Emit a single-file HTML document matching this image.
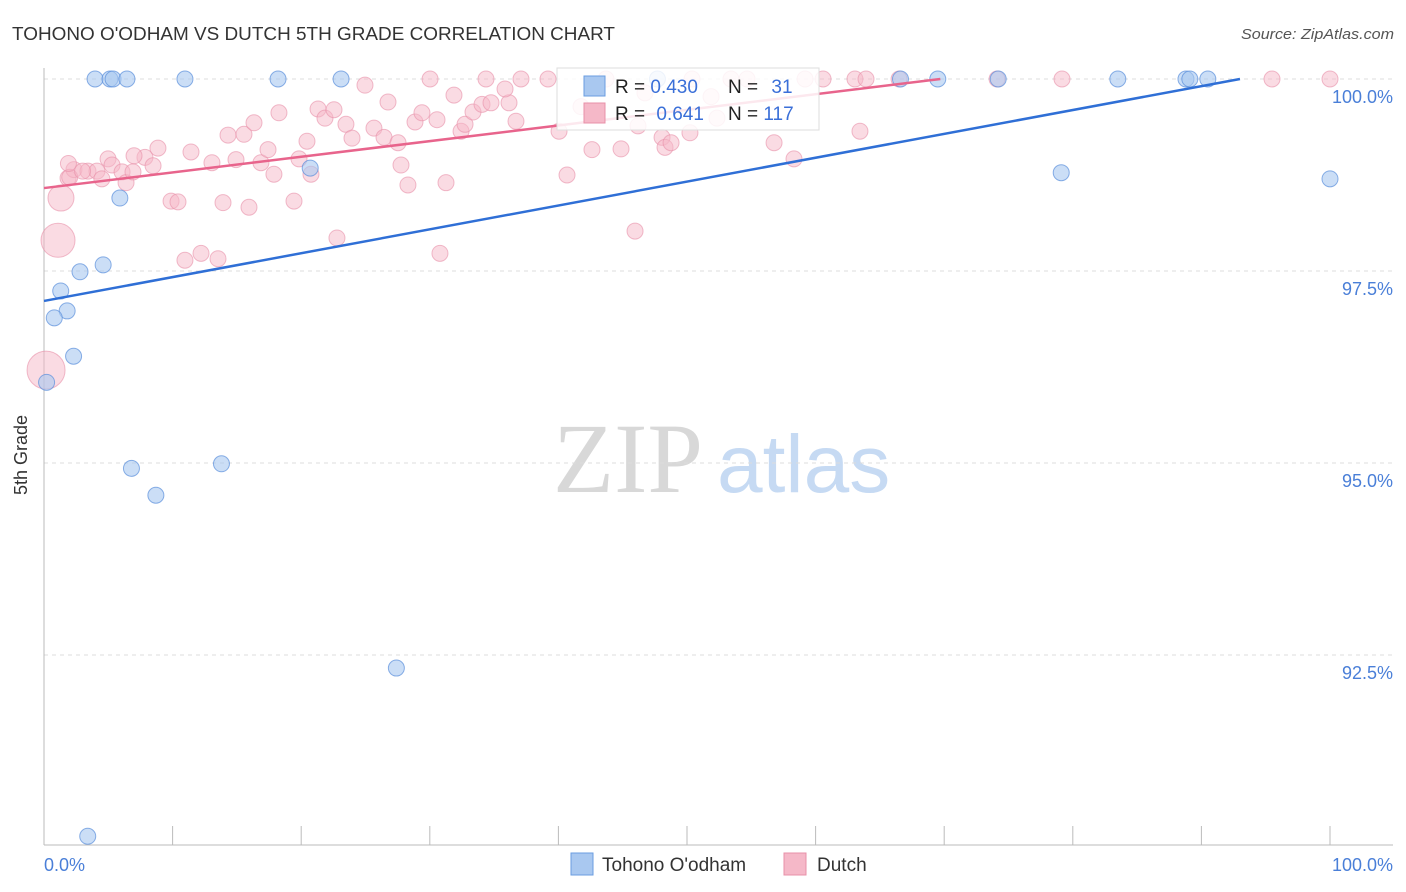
<!DOCTYPE html>
<html><head><meta charset="utf-8"><style>
body{margin:0;background:#fff;font-family:"Liberation Sans",sans-serif}
svg{display:block}
</style></head><body>
<svg id="c" width="1406" height="892" xmlns="http://www.w3.org/2000/svg">
<text x="12" y="40" font-size="18" fill="#333" textLength="603" lengthAdjust="spacingAndGlyphs">TOHONO O'ODHAM VS DUTCH 5TH GRADE CORRELATION CHART</text>
<text x="1241" y="39" font-size="15" fill="#555" font-style="italic" textLength="153" lengthAdjust="spacingAndGlyphs">Source: ZipAtlas.com</text>
<text x="27" y="455" font-size="18" fill="#333" text-anchor="middle" transform="rotate(-90 27 455)">5th Grade</text>
<g>
<text x="553" y="492" font-size="100" font-family="Liberation Serif,serif" fill="#d8d8d8">ZIP</text>
<text x="717" y="492" font-size="82" fill="#c6daf3">atlas</text>
</g>
<g id="grid"></g><g id="axes"></g><g id="pts"></g><g id="lines"></g>
<g>
<rect x="557" y="68" width="262" height="62" fill="#fff" fill-opacity="0.85" stroke="#ddd"/>
<rect x="584" y="76" width="21" height="20" fill="#a9c8f0" stroke="#6a9de0"/>
<rect x="584" y="103" width="21" height="20" fill="#f5b8c8" stroke="#e890a8"/>
<text x="615" y="93" font-size="19" fill="#222">R = <tspan fill="#3a6fd8">0.430</tspan></text>
<text x="728" y="93" font-size="19" fill="#222">N = <tspan fill="#3a6fd8" dx="8">31</tspan></text>
<text x="615" y="120" font-size="19" fill="#222">R = <tspan fill="#3a6fd8" dx="6">0.641</tspan></text>
<text x="728" y="120" font-size="19" fill="#222">N = <tspan fill="#3a6fd8">117</tspan></text>
</g>
<g>
<rect x="571" y="853" width="22" height="22" fill="#a9c8f0" stroke="#6a9de0"/>
<text x="602" y="871" font-size="19" fill="#333">Tohono O'odham</text>
<rect x="784" y="853" width="22" height="22" fill="#f5b8c8" stroke="#e890a8"/>
<text x="817" y="871" font-size="19" fill="#333">Dutch</text>
</g>
</svg>
<script>
const yTicks=[100,97.5,95,92.5];
const yTickLabels=["100.0%","97.5%","95.0%","92.5%"];
const xTicks=[0,10,20,30,40,50,60,70,80,90,100];
const blueX=[3.97,5.13,5.37,6.45,10.96,18.2,23.1,47.7,66.6,69.5,74.2,83.5,88.8,89.1,90.5,20.7,79.1,100,5.9,4.6,2.8,1.3,1.8,0.8,2.3,0.2,6.8,13.8,8.7,27.4,3.4];
const blueY=[100,100,100,100,100,100,100,100,100,100,100,100,100,100,100,98.84,98.78,98.70,98.45,97.58,97.49,97.24,96.98,96.89,96.39,96.05,94.93,94.99,94.58,92.33,90.14];
const pinkX=[1.87,2.33,3.42,4.12,4.98,5.29,6.07,6.38,6.92,7.85,8.48,8.86,9.88,10.42,10.96,11.43,12.21,13.53,13.06,13.92,14.93,15.94,14.31,15.55,16.33,16.87,17.42,17.88,18.27,19.44,19.83,20.45,20.76,21.31,21.85,22.55,22.78,23.48,23.95,24.96,25.66,26.44,26.75,27.53,27.76,28.30,28.85,29.39,30.56,31.26,30.79,32.43,32.74,33.36,34.06,34.76,36.16,35.85,36.70,31.88,30.02,34.37,37.09,39.19,40.05,40.67,42.61,44.87,45.96,46.19,48.06,48.29,48.76,50.23,51.87,52.33,46.73,41.76,43.70,50.39,53.42,54.67,56.77,58.32,59.18,60.58,63.06,63.92,63.45,66.49,74.11,79.16,95.49,100,1.32,1.09,0.16,2.0,1.9,3.0,4.5,7.0];
const pinkY=[98.71,98.82,98.80,98.80,98.96,98.88,98.79,98.65,98.79,98.98,98.87,99.10,98.41,98.40,97.64,99.05,97.73,97.66,98.91,98.39,98.95,98.33,99.27,99.28,99.43,98.91,99.08,98.76,99.56,98.41,98.96,99.19,98.76,99.61,99.49,99.60,97.93,99.41,99.23,99.92,99.36,99.24,99.70,99.17,98.88,98.62,99.44,99.56,99.47,98.65,97.73,99.32,99.41,99.57,99.67,99.69,99.69,99.87,99.45,99.79,100,100,100,100,99.32,98.75,99.08,99.09,98.02,99.39,99.24,99.11,99.17,99.30,99.77,99.49,99.82,99.64,100,100,100,100,99.17,98.96,100,100,100,100,99.32,100,100,100,100,100,98.45,97.90,96.21,98.72,98.90,98.80,98.70,99.00];
const pinkR=[8,8,8,8,8,8,8,8,8,8,8,8,8,8,8,8,8,8,8,8,8,8,8,8,8,8,8,8,8,8,8,8,8,8,8,8,8,8,8,8,8,8,8,8,8,8,8,8,8,8,8,8,8,8,8,8,8,8,8,8,8,8,8,8,8,8,8,8,8,8,8,8,8,8,8,8,8,8,8,8,8,8,8,8,8,8,8,8,8,8,8,8,8,8,13,17,19,8,8,8,8,8];
const blueTrend=[[0,97.11],[93,100]];
const pinkTrend=[[0,98.58],[69.7,100]];
const X0=44,X1=1330,Y100=79,PX25=192;
const sx=v=>X0+(v/100)*(X1-X0);
const sy=v=>Y100+(100-v)/2.5*PX25;
const NS="http://www.w3.org/2000/svg";
function mk(t,a,p){const e=document.createElementNS(NS,t);for(const k in a)e.setAttribute(k,a[k]);p.appendChild(e);return e;}
const grid=document.getElementById('grid'),axes=document.getElementById('axes'),pts=document.getElementById('pts'),lines=document.getElementById('lines');
yTicks.forEach((t,i)=>{
 const l=mk('line',{x1:44,x2:1393,y1:sy(t),y2:sy(t),stroke:'#dcdcdc','stroke-dasharray':'4,4'},grid);
 
 
 const tx=mk('text',{x:1393,y:sy(t)+24,'font-size':18,fill:'#4a7fd8','text-anchor':'end'},grid);
 tx.textContent=yTickLabels[i];
 
 
});
let a=mk('line',{x1:44,x2:44,y1:68,y2:845,stroke:'#bbb'},axes);


a=mk('line',{x1:44,x2:1393,y1:845,y2:845,stroke:'#bbb'},axes);


xTicks.forEach(t=>{
 const l=mk('line',{x1:sx(t),x2:sx(t),y1:826,y2:845,stroke:'#bbb'},axes);
 
 
});
let t0=mk('text',{x:44,y:871,'font-size':18,fill:'#4a7fd8'},axes);t0.textContent='0.0%';


t0=mk('text',{x:1393,y:871,'font-size':18,fill:'#4a7fd8','text-anchor':'end'},axes);t0.textContent='100.0%';


pinkX.forEach((x,i)=>{
 const c=mk('circle',{cx:sx(x),cy:sy(pinkY[i]),r:pinkR[i],fill:'#f5b8c8','fill-opacity':0.5,stroke:'#e890a8','stroke-opacity':0.6},pts);
 
 
});
blueX.forEach((x,i)=>{
 const c=mk('circle',{cx:sx(x),cy:sy(blueY[i]),r:8,fill:'#a9c8f0','fill-opacity':0.6,stroke:'#5a8fdc','stroke-opacity':0.7},pts);
 
 
});
let tl=mk('line',{x1:sx(pinkTrend[0][0]),y1:sy(pinkTrend[0][1]),x2:sx(pinkTrend[1][0]),y2:sy(pinkTrend[1][1]),stroke:'#e8648c','stroke-width':2.5},lines);


tl=mk('line',{x1:sx(blueTrend[0][0]),y1:sy(blueTrend[0][1]),x2:sx(blueTrend[1][0]),y2:sy(blueTrend[1][1]),stroke:'#2f6fd6','stroke-width':2.5},lines);


</script>
</body></html>
